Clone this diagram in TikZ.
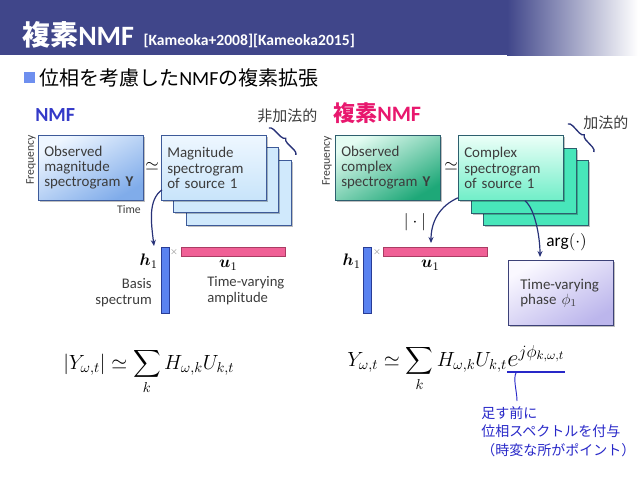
\RequirePackage{fix-cm}
\documentclass[tikz,border=0pt]{standalone}
\usepackage{amsmath}
\usepackage{fontspec}
\setmainfont{Carlito}
\newfontfamily\jp{Noto Sans CJK JP}
\usetikzlibrary{arrows.meta,calc,shadows,decorations.pathreplacing}

\definecolor{titlecol}{RGB}{64,70,138}
\definecolor{bulletcol}{RGB}{110,143,239}
\definecolor{nmfblue}{RGB}{52,58,200}
\definecolor{cpxred}{RGB}{232,24,110}
\definecolor{txtgray}{RGB}{60,60,60}
\definecolor{boxline}{RGB}{61,90,153}
\definecolor{greenline}{RGB}{45,95,110}
\definecolor{flowcol}{RGB}{40,50,120}
\definecolor{notecol}{RGB}{40,40,200}

\begin{document}
\begin{tikzpicture}[x=0.75pt, y=-0.75pt,
  box/.style={draw=boxline, line width=0.6pt, anchor=north west,
              minimum height=48.75pt, text width=70pt, inner xsep=4.4pt,
              inner ysep=0pt, align=left, text=txtgray,
              font=\fontsize{11.2}{11.3}\selectfont,
              drop shadow={fill=black, opacity=0.25, shadow xshift=1.5pt, shadow yshift=-1.5pt}},
  obsbox/.style={box, top color={rgb,255:red,238;green,246;blue,255},
                 bottom color={rgb,255:red,128;green,172;blue,234}, shading angle=30},
  magbox/.style={box, top color={rgb,255:red,238;green,247;blue,255},
                 bottom color={rgb,255:red,200;green,228;blue,250}},
  magback/.style={box, fill={rgb,255:red,208;green,233;blue,252}},
  cobsbox/.style={box, draw=greenline, top color={rgb,255:red,228;green,252;blue,242},
                  bottom color={rgb,255:red,30;green,168;blue,120}, shading angle=30},
  cpxbox/.style={box, draw=greenline, top color={rgb,255:red,236;green,255;blue,248},
                 bottom color={rgb,255:red,112;green,238;blue,200}},
  cpxback/.style={box, draw=greenline, fill={rgb,255:red,72;green,230;blue,186}},
  phasebox/.style={box, draw={rgb,255:red,60;green,65;blue,120}, text width=60.75pt, inner xsep=9pt,
                   top color={rgb,255:red,250;green,248;blue,255},
                   bottom color={rgb,255:red,188;green,182;blue,236}, shading angle=30},
  hbar/.style={draw={rgb,255:red,40;green,60;blue,150}, fill={rgb,255:red,90;green,130;blue,240},
               anchor=north west, inner sep=0, minimum width=6pt, minimum height=49.5pt},
  ubar/.style={draw={rgb,255:red,170;green,60;blue,100}, fill={rgb,255:red,240;green,96;blue,150},
               anchor=north west, inner sep=0, minimum width=78pt, minimum height=6.75pt},
  mlab/.style={inner sep=0, font=\fontsize{12.5}{14}\selectfont},
  small/.style={text=txtgray, inner sep=0, font=\fontsize{8.8}{10}\selectfont},
  desc/.style={text=txtgray, inner sep=0, font=\fontsize{11}{12}\selectfont},
  jlab/.style={text=txtgray, inner sep=0, font=\jp\fontsize{11.25}{13}\selectfont},
  flow/.style={draw=flowcol, line width=0.9pt, -{Stealth[length=4.5pt, width=3.8pt]}},
  brc/.style={draw=flowcol, line width=1pt, decorate,
              decoration={brace, amplitude=3.5pt}}
]
\useasboundingbox (0,0) rectangle (638,479);

% title bar
\fill[titlecol] (0,0) rectangle (508,55);
\shade[left color=titlecol, right color=white] (507,0) rectangle (638,55);
\node[anchor=base west, inner sep=0, text=white, font=\fontsize{21}{24}\selectfont\bfseries]
  (title) at (22,45) {{\jp 複素}NMF};
\node[anchor=base west, inner sep=0, text=white, font=\fontsize{11.7}{13}\selectfont\bfseries]
  (cite) at ($(title.base east)+(9,0)$) {[Kameoka+2008][Kameoka2015]};

% lead line
\node[fill=bulletcol, anchor=north west, inner sep=0, minimum size=8.25pt] (sq) at (24,72) {};
\node[anchor=west, inner sep=0, font=\fontsize{15}{17}\selectfont] (lead) at (39,78)
  {{\jp 位相を考慮した}NMF{\jp の複素拡張}};

% headings
\node[anchor=base west, inner sep=0, text=nmfblue, font=\fontsize{15}{17}\selectfont\bfseries]
  (hnmf) at (35,121) {NMF};
\node[jlab, anchor=west] (nonadd) at (257,116) {非加法的};
\node[anchor=base west, inner sep=0, text=cpxred, font=\fontsize{16.5}{18}\selectfont\bfseries]
  (hcpx) at (333,121) {{\jp 複素}NMF};
\node[jlab, anchor=west] (add) at (583,123) {加法的};

% left: NMF
\node[obsbox] (obs) at (38,135) {Observed\\magnitude\\spectrogram \textbf{Y}};
\node[small, rotate=90] (freql) at (31,160) {Frequency};
\node[small] (time) at (129,209) {Time};
\node[font=\fontsize{13}{15}\selectfont] (siml) at (152,166) {$\simeq$};
\node[magback] (magc) at (186,160) {};
\node[magback] (magb) at (173,147) {};
\node[magbox] (mag) at (161,135) {Magnitude\\spectrogram\\of source 1};
\draw[brc] ($(mag.north east)+(2,-7)$) -- ($(magc.north east)+(4,-5)$);

\node[hbar] (hl) at (161,247) {};
\node[ubar] (ul) at (181,247) {};
\node[inner sep=0, text=gray, font=\fontsize{7}{8}\selectfont] (xl) at (174,252) {$\times$};
\node[mlab, anchor=east] (hllab) at ($(hl.north west)+(-3,14)$) {$\boldsymbol{h}_1$};
\node[mlab] (ullab) at ($(ul.south)+(-5,9)$) {$\boldsymbol{u}_1$};
\node[desc, anchor=east, align=right] (basis) at (152,293) {Basis\\spectrum};
\node[desc, anchor=west, align=left] (ampl) at (207,291) {Time-varying\\amplitude};
\draw[flow] ($(mag.south west)+(1,-11)$) .. controls +(-14,10) and +(-3,-24) .. ($(hl.north west)+(-7,-1)$);

% right: complex NMF
\node[cobsbox] (cobs) at (335,135) {Observed\\complex\\spectrogram \textbf{Y}};
\node[small, rotate=90] (freqr) at (327,161) {Frequency};
\node[font=\fontsize{13}{15}\selectfont] (simr) at (451,166) {$\simeq$};
\node[cpxback] (cpxc) at (483,160) {};
\node[cpxback] (cpxb) at (471,148) {};
\node[cpxbox] (cpx) at (458,135) {Complex\\spectrogram\\of source 1};
\draw[brc] ($(cpx.north east)+(4,-11)$) -- ($(cpxc.north east)+(5,-8)$);

\node[hbar] (hr) at (363,247) {};
\node[ubar] (ur) at (383,247) {};
\node[inner sep=0, text=gray, font=\fontsize{7}{8}\selectfont] (xr) at (377,252) {$\times$};
\node[mlab, anchor=east] (hrlab) at ($(hr.north west)+(-2,14)$) {$\boldsymbol{h}_1$};
\node[mlab] (urlab) at ($(ur.south)+(-5,9)$) {$\boldsymbol{u}_1$};
\node[phasebox] (phase) at (508,260) {Time-varying\\phase $\phi_1$};
\node[mlab, font=\fontsize{13}{15}\selectfont] (absl) at (415,222) {$|\cdot|$};
\node[mlab, anchor=west, font=\fontsize{13}{15}\selectfont] (argl) at (546,242) {$\arg(\cdot)$};
\draw[flow] ($(cpx.south west)+(0,-3)$) .. controls +(-18,8) and +(0,-22) .. ($(ur.north west)+(48,-4)$);
\draw[flow] ($(cpx.south west)+(67,0)$) .. controls +(10,8) and +(0,-20) .. ($(phase.north west)+(32,-3)$);

% equations
\node[anchor=base west, inner sep=0, font=\fontsize{15.4}{18}\selectfont] (eql) at (63,369)
  {$\displaystyle |Y_{\omega,t}| \simeq \sum_k H_{\omega,k}U_{k,t}$};
\node[anchor=base west, inner sep=0, font=\fontsize{15.4}{18}\selectfont] (eqr) at (347,366)
  {$\displaystyle Y_{\omega,t} \simeq \sum_k H_{\omega,k}U_{k,t}$};
\node[anchor=base west, inner sep=0, font=\fontsize{18.5}{20}\selectfont] (ephi) at (eqr.base east)
  {$e^{j\phi_{k,\omega,t}}$};
\coordinate (uls) at ($(ephi.base west)+(0,6)$);
\coordinate (ule) at ($(ephi.base east)+(0,6)$);
\draw[notecol, line width=1.8pt] (uls) -- (ule);

\node[anchor=north west, inner sep=0, align=left, text=notecol,
      font=\jp\fontsize{10.5}{13.9}\selectfont] (note) at (481,406)
  {足す前に\\位相スペクトルを付与\\（時変な所がポイント）};
\draw[notecol, line width=0.7pt] ($(uls)!0.16!(ule)$) .. controls +(-4,6) and +(0,-10) .. ($(note.north west)+(36,-5)$);
\end{tikzpicture}
\end{document}
